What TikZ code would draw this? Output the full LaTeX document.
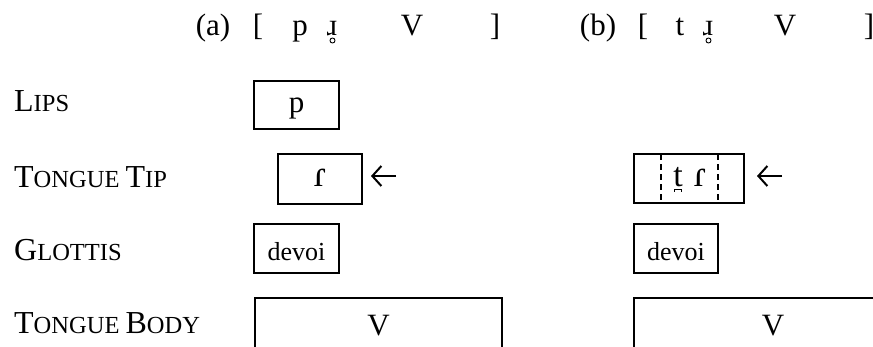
\documentclass[tikz,border=0pt]{standalone}
\usepackage{fontspec}
\setmainfont{Liberation Serif}
\usetikzlibrary{arrows.meta,calc}
% tier names in small capitals: full-size initial, reduced capitals after it
\newcommand\tiername[2]{#1{\fontsize{24.5}{24.5}\selectfont #2}}
\begin{document}
\begin{tikzpicture}[x=1pt,y=-1pt,
  hdr/.style={font=\fontsize{31}{31}\selectfont, anchor=base, inner sep=0pt},
  tier/.style={font=\fontsize{32}{32}\selectfont, anchor=base west, inner sep=0pt},
  gesture/.style={draw, line width=1.5pt, inner sep=0pt, outer sep=0pt, anchor=north west},
  seg/.style={anchor=base, inner sep=0pt, font=\fontsize{31}{31}\selectfont},
  ipa/.style={seg, font=\fontsize{37}{37}\selectfont},
  devoice/.style={seg, font=\fontsize{26}{26}\selectfont},
  ring/.style={line width=0.9pt},
  phase/.style={line width=1.5pt, dash pattern=on 6pt off 4pt},
  pointer/.style={line width=2pt, -{Straight Barb[length=9pt, width=20pt, line width=2pt]}}]
\useasboundingbox (0,0) rectangle (873,346);
\clip (0,0) rectangle (873,346);

% transcriptions
\node[hdr] (ha)  at (213,35) {(a)};
\node[hdr] (ha1) at (258,35) {[};
\node[hdr] (ha2) at (300,35) {p};
\node[hdr] (ha3) at (332,35) {ɹ};
\draw[ring] ($(ha3.base)+(0.5,5.5)$) circle (2.5);
\node[hdr] (ha4) at (412,35) {V};
\node[hdr] (ha5) at (495,35) {]};
\node[hdr] (hb)  at (598,35) {(b)};
\node[hdr] (hb1) at (643,35) {[};
\node[hdr] (hb2) at (680,35) {t};
\node[hdr] (hb3) at (708,35) {ɹ};
\draw[ring] ($(hb3.base)+(0.5,5.5)$) circle (2.5);
\node[hdr] (hb4) at (785,35) {V};
\node[hdr] (hb5) at (869,35) {]};

% tiers
\node[tier] (lips)  at (14,111) {\tiername{L}{IPS}};
\node[tier] (tip)   at (14,187) {\tiername{T}{ONGUE }\tiername{T}{IP}};
\node[tier] (glot)  at (14,260) {\tiername{G}{LOTTIS}};
\node[tier] (body)  at (14,333) {\tiername{T}{ONGUE }\tiername{B}{ODY}};

% gestures of (a)
\node[gesture, minimum width=85pt, minimum height=48pt] (lipsA) at (254,81) {};
\node[seg] (lipsAt) at ($(lipsA.north)+(0,31)$) {p};
\node[gesture, minimum width=84pt, minimum height=50pt] (tipA) at (278,154) {};
\node[ipa] (tipAt) at ($(tipA.north)+(0,32)$) {ɾ};
\node[gesture, minimum width=85pt, minimum height=49pt] (gloA) at (254,224) {};
\node[devoice] (gloAt) at ($(gloA.north)+(0,36)$) {devoi};
\node[gesture, minimum width=247pt, minimum height=60pt] (bodyA) at (255,298) {};
\node[seg] (bodyAt) at ($(bodyA.north)+(0,37)$) {V};

% gestures of (b)
\node[gesture, minimum width=110pt, minimum height=49pt] (tipB) at (634,154) {};
\node[seg, font=\fontsize{34}{34}\selectfont] (tipBt) at ($(tipB.north west)+(44,32)$) {t};
\draw[line width=0.9pt] ($(tipBt.base)+(-3.5,5.5)$) |- ($(tipBt.base)+(3.5,3)$) -- ++(0,2.5);
\node[ipa] (tipBr) at ($(tipB.north west)+(66,32)$) {ɾ};
\draw[phase] ($(tipB.north west)+(27,0)$) -- ($(tipB.south west)+(27,0)$);
\draw[phase] ($(tipB.north west)+(84,0)$) -- ($(tipB.south west)+(84,0)$);
\node[gesture, minimum width=84pt, minimum height=49pt] (gloB) at (634,224) {};
\node[devoice] (gloBt) at ($(gloB.north)+(0,36)$) {devoi};
\node[gesture, minimum width=278pt, minimum height=60pt] (bodyB) at (634,298) {};
\node[seg] (bodyBt) at ($(bodyB.north west)+(139,37)$) {V};

% arrows pointing at the tongue-tip gestures
\coordinate (arA0) at ($(tipA.east)+(34,-3)$);
\coordinate (arA1) at ($(tipA.east)+(9,-3)$);
\draw[pointer] (arA0) -- (arA1);
\coordinate (arB0) at ($(tipB.east)+(38,-2.5)$);
\coordinate (arB1) at ($(tipB.east)+(13,-2.5)$);
\draw[pointer] (arB0) -- (arB1);
\end{tikzpicture}
\end{document}
